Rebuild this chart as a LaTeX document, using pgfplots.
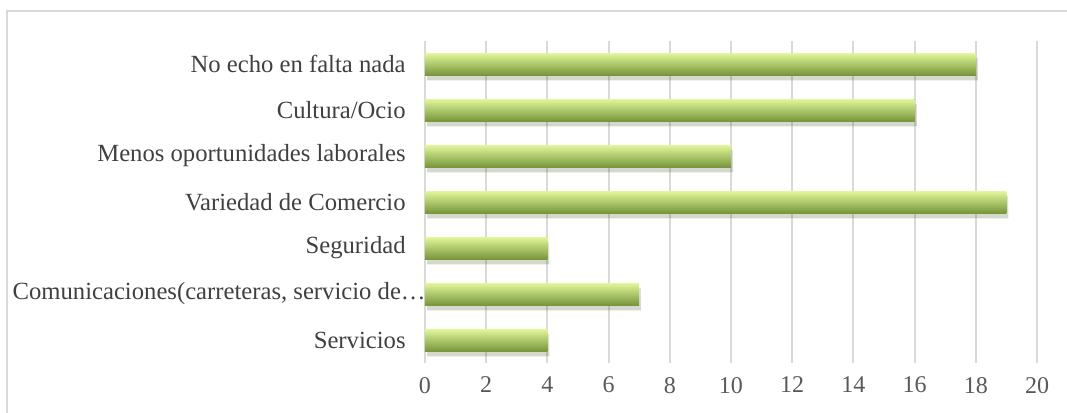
\documentclass[border=0pt]{standalone}
\usepackage{pgfplots}
\pgfplotsset{compat=1.18}
\usepackage{fontspec}
\setmainfont{Liberation Serif}
\usetikzlibrary{shadows}
\definecolor{gridc}{HTML}{D9D9D9}
\definecolor{txt}{HTML}{404040}
\definecolor{tickc}{HTML}{595959}
\definecolor{barTop}{HTML}{E2F79A}
\definecolor{barMid}{HTML}{B2D458}
\definecolor{barBot}{HTML}{78963C}
\begin{document}
\begin{tikzpicture}
\useasboundingbox (-318.75pt,-36.75pt) rectangle (481.5pt,272.25pt);
\draw[gridc, line width=1.5pt] (-313.5pt,-40pt) -- (-313.5pt,264pt) -- (490pt,264pt);
\begin{axis}[
  at={(0,0)}, anchor=south west,
  scale only axis,
  width=459pt, height=241.5pt,
  xbar, bar width=16.5pt, bar shift=0pt,
  xmin=0, xmax=20, ymin=-0.5, ymax=6.5,
  xtick={0,2,...,20},
  ytick={0,...,6},
  yticklabels={Servicios,{Comunicaciones(carreteras, servicio de\ldots\kern-15pt},Seguridad,Variedad de Comercio,Menos oportunidades laborales,Cultura/Ocio,No echo en falta nada},
  axis line style={draw=none},
  axis x line*=bottom, axis y line*=left,
  major tick length=0pt,
  xmajorgrids, grid style={gridc, line width=1.5pt},
  /pgf/number format/assume math mode=true,
  xticklabel style={font=\fontsize{18}{20}\selectfont, text=tickc, yshift=-7pt},
  yticklabel style={font=\fontsize{18.5}{20}\selectfont, text=txt, xshift=-11pt},
  clip=false,
  every axis plot/.append style={draw=none, top color=barTop, middle color=barMid, bottom color=barBot,
    drop shadow={shadow xshift=1.5pt, shadow yshift=-4pt, opacity=0.12, fill=black}},
]
\addplot coordinates {(4,0)};
\addplot coordinates {(7,1)};
\addplot coordinates {(4,2)};
\addplot coordinates {(19,3)};
\addplot coordinates {(10,4)};
\addplot coordinates {(16,5)};
\addplot coordinates {(18,6)};
\end{axis}
\end{tikzpicture}
\end{document}
